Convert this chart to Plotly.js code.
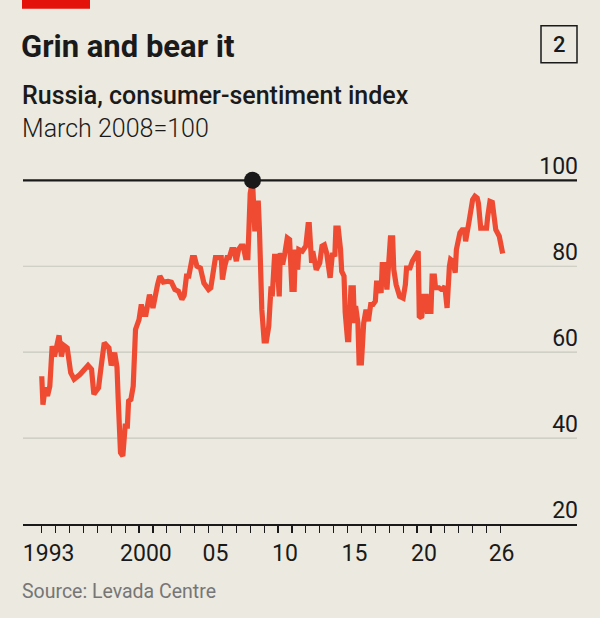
<!DOCTYPE html>
<html>
<head>
<meta charset="utf-8">
<script src="https://cdn.plot.ly/plotly-3.0.1.min.js"></script>
<style>
  html, body { margin: 0; padding: 0; background: #ebe9e0; }
  #chart { width: 600px; height: 618px; }
</style>
</head>
<body>
<div id="chart"></div>
<script>
// Russia, consumer-sentiment index (March 2008 = 100), Levada Centre
const months = [
  '1993-01','1993-02','1993-04','1993-06','1993-08','1993-10','1993-12',
  '1994-04','1994-06','1994-08','1994-11',
  '1995-02','1995-05','1995-10',
  '1996-05','1996-08','1996-10',
  '1997-02','1997-04','1997-07','1997-11',
  '1998-01','1998-04','1998-06','1998-07','1998-09','1998-11',
  '1999-01','1999-03','1999-04','1999-06','1999-08','1999-10',
  '2000-01','2000-03','2000-05','2000-07','2000-10',
  '2001-01','2001-03','2001-05','2001-07','2001-10',
  '2002-02','2002-05','2002-08','2002-11',
  '2003-02','2003-04','2003-06','2003-08','2003-11',
  '2004-01','2004-03','2004-06','2004-09',
  '2005-01','2005-03','2005-06','2005-07','2005-12',
  '2006-01','2006-03','2006-05','2006-07','2006-09','2006-11',
  '2007-01','2007-03','2007-05','2007-07','2007-09','2007-11',
  '2008-01','2008-03','2008-04','2008-05','2008-06','2008-08','2008-09','2008-11',
  '2009-01','2009-03','2009-05','2009-07','2009-08','2009-10','2009-12',
  '2010-02','2010-03','2010-05','2010-07','2010-09','2010-11',
  '2011-01','2011-03','2011-04','2011-06','2011-07','2011-10',
  '2012-01','2012-03','2012-04','2012-06','2012-07','2012-10',
  '2013-01','2013-03','2013-05','2013-07','2013-08','2013-10','2013-12',
  '2014-02','2014-03','2014-05','2014-07','2014-08','2014-10','2014-11',
  '2015-01','2015-02','2015-04','2015-06','2015-07','2015-08','2015-10','2015-11',
  '2016-01','2016-03','2016-05','2016-07','2016-09','2016-11',
  '2017-01','2017-02','2017-04','2017-06','2017-07','2017-09','2017-11',
  '2018-01','2018-02','2018-04','2018-05','2018-07','2018-10',
  '2019-01','2019-03','2019-04','2019-07','2019-09',
  '2020-01','2020-02','2020-03','2020-05','2020-07','2020-09','2020-10',
  '2021-01','2021-02','2021-04','2021-05','2021-08','2021-10','2021-11',
  '2022-01','2022-02','2022-03','2022-05','2022-06','2022-08','2022-10','2022-11',
  '2023-02','2023-04','2023-06','2023-07','2023-09','2023-10',
  '2024-01','2024-03','2024-05','2024-06','2024-08','2024-10',
  '2025-01','2025-02','2025-04','2025-06','2025-08','2025-09','2025-12',
  '2026-03'
];
const sentiment = [
  54.4, 47.8, 51.8, 49.8, 52.1, 61.4, 59.0,
  63.9, 59.0, 61.6, 61.0,
  55.2, 53.7, 54.8,
  56.9, 56.0, 50.2,
  51.7, 56.0, 62.2, 61.0,
  56.9, 59.9, 56.5, 49.5, 36.6, 35.8,
  42.8, 42.8, 48.6, 49.0, 52.1, 65.3,
  67.6, 71.1, 68.8, 68.8, 73.4,
  70.3, 73.4, 75.7, 77.7, 76.3,
  76.5, 76.3, 74.6, 74.2,
  72.3, 73.2, 77.7, 77.7, 82.0,
  82.0, 80.0, 79.6, 76.1,
  74.6, 75.0, 79.2, 82.0, 82.0,
  76.9, 80.0, 82.0, 82.0, 83.9, 83.9,
  81.2, 83.9, 84.7, 84.7, 82.0, 82.0,
  97.0, 100, 88.1, 88.1, 94.7, 94.7, 88.1, 69.9,
  62.6, 62.6, 66.0, 75.3, 73.0, 82.3, 82.3,
  73.0, 83.1, 80.4, 83.1, 86.6, 86.2,
  74.6, 74.6, 83.9, 79.2, 83.9, 83.5,
  84.7, 89.7, 89.7, 80.8, 83.5, 79.2,
  80.8, 84.7, 85.0, 83.1, 81.2, 77.3, 83.1,
  82.3, 88.9, 88.9, 83.9, 78.8, 77.7, 69.2,
  62.9, 62.9, 75.0, 75.0, 66.8, 70.7, 66.8, 57.5,
  57.5, 66.8, 69.9, 67.2, 71.1, 71.1,
  71.9, 76.1, 76.1, 73.8, 80.4, 80.4, 74.6,
  81.2, 86.6, 86.6, 79.2, 75.7, 73.0,
  72.6, 75.7, 79.6, 79.6, 81.2,
  83.5, 83.5, 68.4, 68.0, 73.0, 73.0, 69.5,
  69.5, 77.7, 77.7, 75.0, 75.0, 74.6, 74.6,
  75.3, 73.0, 70.3, 80.0, 81.6, 81.2, 78.5, 83.9,
  87.8, 88.5, 88.5, 85.8, 90.5, 90.5,
  95.5, 96.3, 95.9, 94.7, 88.9, 88.9,
  88.9, 91.6, 95.1, 94.9, 90.1, 88.5, 87.0,
  83.0
];

// March 2008, the base month
const peakMonth = ['2008-03'];
const peakValue = [100];

// Axis ticks and labels
const yearTickDates = [
  '1993-01-01','1994-01-01','1995-01-01','1996-01-01','1997-01-01','1998-01-01',
  '1999-01-01','2000-01-01','2001-01-01','2002-01-01','2003-01-01','2004-01-01',
  '2005-01-01','2006-01-01','2007-01-01','2008-01-01','2009-01-01','2010-01-01',
  '2011-01-01','2012-01-01','2013-01-01','2014-01-01','2015-01-01','2016-01-01',
  '2017-01-01','2018-01-01','2019-01-01','2020-01-01','2021-01-01','2022-01-01',
  '2023-01-01','2024-01-01','2025-01-01','2026-01-01'
];
const yearLabelDates = ['1993-07-01','2000-07-01','2005-07-01','2010-07-01','2015-07-01','2020-07-01','2026-02-01'];
const yearLabels = ['1993','2000','05','10','15','20','26'];
const indexTicks = [20, 40, 60, 80, 100];
const indexLabels = ['20', '40', '60', '80', '100'];
const gridValues = [40, 60, 80];
const baseValue = 100;

// Page geometry helpers (pixel -> paper coordinates)
const FW = 600, FH = 618;
const M = { l: 23, r: 23, t: 146.3, b: 93.5 };
const PW = FW - M.l - M.r, PH = FH - M.t - M.b;
const px = x => (x - M.l) / PW;
const py = y => (FH - M.b - y) / PH;

const INK = '#1a1a1a';
const FONT = 'Roboto, "Liberation Sans", Arial, sans-serif';
const xRange = ['1991-08-27', '2031-07-06'];

const traces = [
  {
    x: months, y: sentiment, type: 'scatter', mode: 'lines',
    line: { color: '#ef4b32', width: 5.2, shape: 'linear' },
    hoverinfo: 'skip', cliponaxis: false
  },
  {
    x: peakMonth, y: peakValue, type: 'scatter', mode: 'markers',
    marker: { color: INK, size: 17, line: { width: 0 } },
    hoverinfo: 'skip', cliponaxis: false
  }
];

const gridShapes = gridValues.map(v => ({
  type: 'line', xref: 'paper', yref: 'y', x0: 0, x1: 1, y0: v, y1: v,
  line: { color: '#c9c7be', width: 1.2 }, layer: 'below'
}));

const layout = {
  width: FW, height: FH,
  margin: M,
  paper_bgcolor: '#ebe9e0',
  plot_bgcolor: '#ebe9e0',
  showlegend: false,
  title: {
    text: 'Grin and bear it',
    font: { family: FONT, size: 31, weight: 700, color: INK },
    xref: 'container', yref: 'container',
    x: 21 / FW, y: 1 - 46.5 / FH, xanchor: 'left', yanchor: 'middle',
    pad: { t: 0, b: 0, l: 0, r: 0 }
  },
  xaxis: {
    type: 'date', range: xRange, fixedrange: true,
    tickmode: 'array', tickvals: yearLabelDates, ticktext: yearLabels,
    ticks: '', ticklabelstandoff: 8,
    tickfont: { family: FONT, size: 23, color: INK },
    minor: {
      tickmode: 'array', tickvals: yearTickDates,
      ticks: 'outside', ticklen: 7, tickwidth: 1.2, tickcolor: INK, showgrid: false
    },
    showgrid: false, zeroline: false,
    showline: true, linecolor: INK, linewidth: 1.5
  },
  yaxis: {
    range: [20, 108], fixedrange: true, side: 'right',
    tickmode: 'array', tickvals: indexTicks, ticktext: indexLabels,
    ticks: '', ticklabelposition: 'inside top', ticklabelstandoff: -4, ticklabelshift: 2,
    showgrid: false, zeroline: false, showline: false,
    tickfont: { family: FONT, size: 23, color: INK }
  },
  shapes: gridShapes.concat([
    { type: 'line', xref: 'paper', yref: 'y', x0: 0, x1: 1, y0: baseValue, y1: baseValue,
      line: { color: INK, width: 2.2 }, layer: 'below' },
    { type: 'rect', xref: 'paper', yref: 'paper',
      x0: px(22), x1: px(90), y0: py(9), y1: py(0),
      fillcolor: '#e3120b', line: { width: 0 } },
    { type: 'rect', xref: 'paper', yref: 'paper',
      x0: px(541), x1: px(577), y0: py(63), y1: py(26),
      fillcolor: 'rgba(0,0,0,0)', line: { color: INK, width: 1.5 } }
  ]),
  annotations: [
    { text: '2', xref: 'paper', yref: 'paper', x: px(559), y: py(44.5),
      xanchor: 'center', yanchor: 'middle', showarrow: false,
      font: { family: FONT, size: 22, weight: 500, color: INK } },
    { text: 'Russia, consumer-sentiment index', xref: 'paper', yref: 'paper',
      x: px(20), y: py(95.5), xanchor: 'left', yanchor: 'middle', showarrow: false,
      font: { family: FONT, size: 25, weight: 500, color: INK } },
    { text: 'March 2008=100', xref: 'paper', yref: 'paper',
      x: px(20), y: py(128.5), xanchor: 'left', yanchor: 'middle', showarrow: false,
      font: { family: FONT, size: 25, weight: 300, color: INK } },
    { text: 'Source: Levada Centre', xref: 'paper', yref: 'paper',
      x: px(20), y: py(592), xanchor: 'left', yanchor: 'middle', showarrow: false,
      font: { family: FONT, size: 19.5, color: '#767676' } }
  ]
};

Plotly.newPlot('chart', traces, layout, { displayModeBar: false, staticPlot: true });
</script>
</body>
</html>
